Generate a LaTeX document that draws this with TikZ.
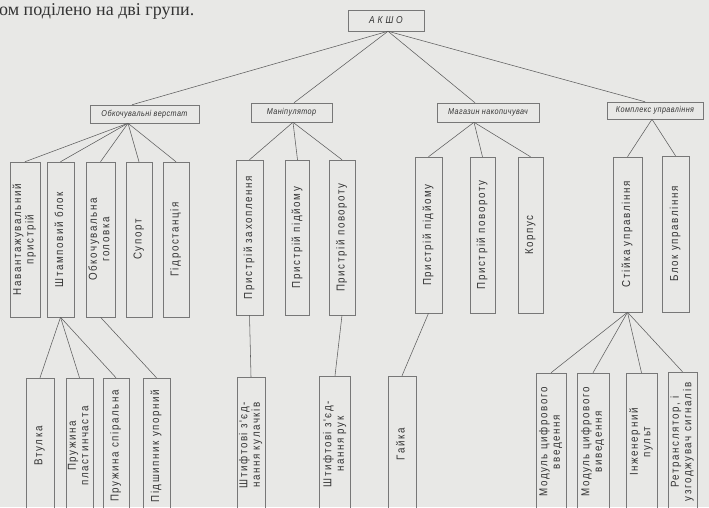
\documentclass[tikz,border=0pt]{standalone}
\usepackage{fontspec}
\usepackage{graphicx}
\setmainfont{Liberation Serif}
\newfontfamily\vertfont{Liberation Sans}[FakeStretch=0.85,LetterSpace=14]
\newfontfamily\labfont{Liberation Sans}[FakeStretch=0.85,LetterSpace=5]
\newcommand{\vtx}[1]{\rotatebox{90}{\begin{tabular}{@{}c@{}}#1\end{tabular}}}
\definecolor{bgc}{HTML}{E8E8E6}
\definecolor{boxc}{HTML}{777777}
\definecolor{linec}{HTML}{5E5E5E}
\definecolor{txtc}{HTML}{333333}
\tikzset{
  vb/.style={draw=boxc, line width=0.5pt, inner sep=0pt, text=txtc,
    font=\vertfont\fontsize{11.5}{12.5}\selectfont},
  lb/.style={draw=boxc, line width=0.5pt, inner sep=0pt, text=txtc,
    font=\labfont\itshape\fontsize{8.5}{10}\selectfont},
  ln/.style={draw=linec, line width=0.55pt},
}
\begin{document}
\begin{tikzpicture}[x=1pt,y=-1pt]
\useasboundingbox (0,0) rectangle (709,507);
\clip (0,0) rectangle (709,507);
\fill[bgc] (0,0) rectangle (709,507);
\node[anchor=base west, inner sep=0pt, text=txtc, font=\fontsize{18}{20}\selectfont] (toptext) at (-1,15) {ом поділено на дві групи.};
% root
\node[lb, minimum width=76pt, minimum height=21pt, font=\labfont\itshape\fontsize{10}{12}\selectfont] (root) at (386,20.5) {А К Ш О};
% level 2
\node[lb, minimum width=109pt, minimum height=18pt] (obk) at (144.5,114) {Обкочувальні верстат};
\node[lb, minimum width=81pt, minimum height=19pt] (man) at (291.5,112.5) {Маніпулятор};
\node[lb, minimum width=102pt, minimum height=19pt] (mag) at (488,112.5) {Магазин накопичувач};
\node[lb, minimum width=96pt, minimum height=17pt] (kom) at (655,110.5) {Комплекс управління};
% level 3
\node[vb, minimum width=30pt, minimum height=155pt] (nav) at (25,239.5) {\vtx{Навантажувальний\\пристрій}};
\node[vb, minimum width=27pt, minimum height=155pt] (sht) at (60.5,239.5) {\vtx{Штамповий блок}};
\node[vb, minimum width=29pt, minimum height=155pt] (obh) at (100.5,239.5) {\vtx{Обкочувальна\\головка}};
\node[vb, minimum width=26pt, minimum height=155pt] (sup) at (139,239.5) {\vtx{Супорт}};
\node[vb, minimum width=26pt, minimum height=155pt] (gid) at (176,239.5) {\vtx{Гідростанція}};
\node[vb, minimum width=27pt, minimum height=155pt] (zah) at (249.5,237.5) {\vtx{Пристрій захоплення}};
\node[vb, minimum width=24pt, minimum height=155pt] (pid) at (297.5,237.5) {\vtx{Пристрій підйому}};
\node[vb, minimum width=26pt, minimum height=155pt] (pov) at (342,237.5) {\vtx{Пристрій повороту}};
\node[vb, minimum width=27pt, minimum height=156pt] (pidb) at (428.5,235) {\vtx{Пристрій підйому}};
\node[vb, minimum width=25pt, minimum height=156pt] (povb) at (482.5,235) {\vtx{Пристрій повороту}};
\node[vb, minimum width=25pt, minimum height=156pt] (kor) at (530.5,235) {\vtx{Корпус}};
\node[vb, minimum width=29pt, minimum height=155pt] (sti) at (627.5,234.5) {\vtx{Стійка управління}};
\node[vb, minimum width=27pt, minimum height=156pt] (blk) at (675.5,234) {\vtx{Блок управління}};
% level 4
\node[vb, minimum width=28pt, minimum height=136pt] (vtu) at (40,446) {\vtx{Втулка}};
\node[vb, minimum width=27pt, minimum height=136pt] (prp) at (79.5,446) {\vtx{Пружина\\пластинчаста}};
\node[vb, minimum width=26pt, minimum height=136pt] (prs) at (116,446) {\vtx{Пружина спіральна}};
\node[vb, minimum width=27pt, minimum height=136pt] (pdu) at (156.5,446) {\vtx{Підшипник упорний}};
\node[vb, minimum width=28pt, minimum height=136pt] (shk) at (251,445) {\vtx{Штифтові з'єд-\\нання кулачків}};
\node[vb, minimum width=31pt, minimum height=136pt] (shr) at (335,444) {\vtx{Штифтові з'єд-\\нання рук}};
\node[vb, minimum width=28pt, minimum height=136pt] (gai) at (402,444) {\vtx{Гайка}};
\node[vb, minimum width=30pt, minimum height=138pt] (mvv) at (551,442) {\vtx{Модуль цифрового\\введення}};
\node[vb, minimum width=32pt, minimum height=138pt] (mvy) at (593,442) {\vtx{Модуль цифрового\\виведення}};
\node[vb, minimum width=31pt, minimum height=138pt] (inz) at (641.5,442) {\vtx{Інженерний\\пульт}};
\node[vb, minimum width=29pt, minimum height=140pt] (ret) at (682.5,442) {\vtx{Ретранслятор, і\\узгоджувач сигналів}};
% attachment points
\coordinate (rootB) at ([xshift=2pt]root.south);
\coordinate (obkT) at ([xshift=-12.5pt]obk.north);
\coordinate (manT) at ([xshift=2.5pt]man.north);
\coordinate (magT) at ([xshift=-13pt]mag.north);
\coordinate (komT) at ([xshift=-10pt]kom.north);
\coordinate (obkB) at ([xshift=-16.5pt]obk.south);
\coordinate (manB) at ([xshift=1.5pt]man.south);
\coordinate (magB) at ([xshift=-14pt]mag.south);
\coordinate (komB) at ([xshift=-3pt]kom.south);
% connectors
\draw[ln] (rootB) -- (obkT);
\draw[ln] (rootB) -- (manT);
\draw[ln] (rootB) -- (magT);
\draw[ln] (rootB) -- (komT);
\foreach \c in {nav,sht,obh,sup,gid} \draw[ln] (obkB) -- (\c.north);
\foreach \c in {zah,pid,pov} \draw[ln] (manB) -- (\c.north);
\foreach \c in {pidb,povb,kor} \draw[ln] (magB) -- (\c.north);
\foreach \c in {sti,blk} \draw[ln] (komB) -- (\c.north);
\foreach \c in {vtu,prp,prs} \draw[ln] (sht.south) -- (\c.north);
\draw[ln] (obh.south) -- (pdu.north);
\draw[ln] (zah.south) -- (shk.north);
\draw[ln] (pov.south) -- (shr.north);
\draw[ln] (pidb.south) -- (gai.north);
\foreach \c in {mvv,mvy,inz,ret} \draw[ln] (sti.south) -- (\c.north);
\end{tikzpicture}
\end{document}
